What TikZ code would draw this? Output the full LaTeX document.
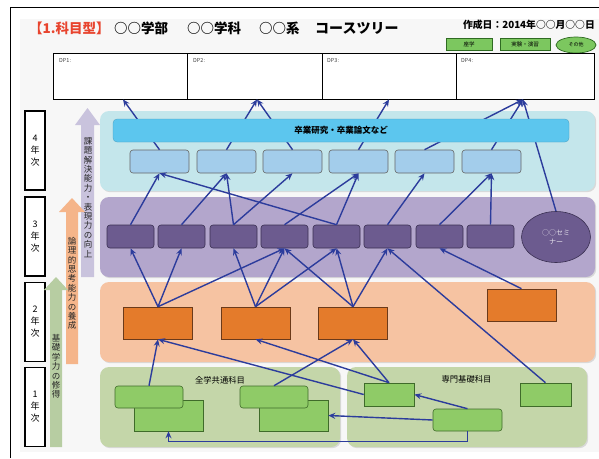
\documentclass[tikz,border=0pt]{standalone}
\usepackage{fontspec}
\newfontfamily\jp{Noto Sans CJK JP}
\usetikzlibrary{arrows.meta,shapes.geometric,shadows}
\definecolor{pagebg}{HTML}{F7F7F7}
\definecolor{titlered}{HTML}{E8442E}
\definecolor{btngreen}{HTML}{7CC75F}
\definecolor{btnborder}{HTML}{2F6B22}
\definecolor{band4}{HTML}{C4E6EB}
\definecolor{barblue}{HTML}{5CC6EE}
\definecolor{qfill}{HTML}{A3CDEB}
\definecolor{band3}{HTML}{B3A6CC}
\definecolor{pfill}{HTML}{6C5B8F}
\definecolor{pborder}{HTML}{3A3052}
\definecolor{band2}{HTML}{F6C3A2}
\definecolor{ofill}{HTML}{E47B2B}
\definecolor{oborder}{HTML}{6B3A1A}
\definecolor{band1}{HTML}{C4D6A9}
\definecolor{gfill}{HTML}{8FCB67}
\definecolor{gborder}{HTML}{3F6B2A}
\definecolor{arrowblue}{HTML}{2C3C9C}
\definecolor{lavarrow}{HTML}{C9C3DD}
\definecolor{orarrow}{HTML}{F5B58A}
\definecolor{grarrow}{HTML}{B7CDA2}
\begin{document}
\begin{tikzpicture}[x=1pt,y=-1pt,font=\jp,
  band/.style={rounded corners=9pt,inner sep=0pt,draw=none,minimum height=80pt,
    drop shadow={shadow xshift=1.2pt,shadow yshift=-1.2pt,opacity=0.25,fill=gray}},
  dpbox/.style={draw=black,line width=0.9pt,fill=white,inner sep=0pt,minimum height=46pt},
  dplabel/.style={anchor=west,inner sep=0pt,font=\jp\fontsize{5.5}{6}\selectfont,text=black!75},
  yearbox/.style={draw=black,line width=1.3pt,fill=white,inner sep=0pt,minimum width=20pt,
    minimum height=79pt,align=center,font=\jp\fontsize{9}{12}\selectfont},
  qbox/.style={draw=black!60,line width=0.6pt,fill=qfill,rounded corners=3pt,inner sep=0pt,
    minimum width=59pt,minimum height=23pt},
  pbox/.style={draw=pborder,line width=0.6pt,fill=pfill,rounded corners=3pt,inner sep=0pt,
    minimum width=47pt,minimum height=23pt},
  obox/.style={draw=oborder,line width=0.6pt,fill=ofill,inner sep=0pt,
    minimum width=69pt,minimum height=32pt},
  gbox/.style={draw=gborder,line width=0.6pt,fill=gfill,inner sep=0pt},
  grbox/.style={gbox,rounded corners=3pt},
  vtext/.style={align=center,inner sep=0pt,font=\jp\fontsize{8.5}{9.4}\selectfont,text=black!85},
  conn/.style={draw=arrowblue,line width=1.4pt,-{Stealth[length=7pt,width=6pt,inset=2.5pt]}}
]
\useasboundingbox (0,0) rectangle (599,458);
\fill[white] (0,0) rectangle (599,458);
\fill[pagebg] (20,19) rectangle (599,452);
\draw[line width=0.9pt] (10,458) -- (10,7) -- (599,7);

% title
\node[anchor=west,inner sep=0pt,text=titlered,font=\jp\bfseries\fontsize{13.5}{14}\selectfont] (t1) at (29,28) {【1.科目型】};
\node[anchor=west,inner sep=0pt,font=\jp\bfseries\fontsize{13.5}{14}\selectfont] (t2) at (114,28) {○○学部};
\node[anchor=west,inner sep=0pt,font=\jp\bfseries\fontsize{13.5}{14}\selectfont] (t3) at (187,28) {○○学科};
\node[anchor=west,inner sep=0pt,font=\jp\bfseries\fontsize{13.5}{14}\selectfont] (t4) at (259,28) {○○系};
\node[anchor=west,inner sep=0pt,font=\jp\bfseries\fontsize{14}{14}\selectfont] (t5) at (315,28) {コースツリー};
\node[anchor=east,inner sep=0pt,font=\jp\bfseries\fontsize{9.8}{10}\selectfont] (date) at (595,25) {作成日：2014年○○月○○日};
\node[draw=btnborder,line width=0.7pt,fill=btngreen,inner sep=0pt,minimum width=46pt,minimum height=12pt,font=\jp\fontsize{5.5}{6}\selectfont] (b1) at (469,44.5) {座学};
\node[draw=btnborder,line width=0.7pt,fill=btngreen,inner sep=0pt,minimum width=50pt,minimum height=12pt,font=\jp\fontsize{5.5}{6}\selectfont] (b2btn) at (525,44.5) {実験・演習};
\node[ellipse,draw=btnborder,line width=0.7pt,fill=btngreen,inner sep=0pt,minimum width=40pt,minimum height=16pt,font=\jp\fontsize{5}{6}\selectfont] (b3) at (576,45) {その他};

% DP boxes
\node[dpbox,minimum width=134pt] (dp1) at (120,76) {};
\node[dpbox,minimum width=135pt] (dp2) at (254.5,76) {};
\node[dpbox,minimum width=134pt] (dp3) at (389,76) {};
\node[dpbox,minimum width=138pt] (dp4) at (525,76) {};
\node[dplabel] (dp1l) at (59,61) {DP1:};
\node[dplabel] (dp2l) at (193,61) {DP2:};
\node[dplabel] (dp3l) at (327,61) {DP3:};
\node[dplabel] (dp4l) at (461,61) {DP4:};

% year boxes
\node[yearbox] (y4) at (35,150.5) {4\\年\\次};
\node[yearbox] (y3) at (35,236.5) {3\\年\\次};
\node[yearbox] (y2) at (35,322) {2\\年\\次};
\node[yearbox] (y1) at (35,407) {1\\年\\次};

% block arrows
\fill[lavarrow] (81,277) -- (81,125) -- (75,125) -- (87.5,108) -- (100,125) -- (94,125) -- (94,277) -- cycle;
\fill[orarrow] (66,364) -- (66,212) -- (59,212) -- (72,198) -- (85,212) -- (78,212) -- (78,364) -- cycle;
\fill[grarrow] (50,447) -- (50,290) -- (44,290) -- (56,277) -- (68,290) -- (62,290) -- (62,447) -- cycle;
\node[vtext] (vt1) at (88,197.5) {課\\題\\解\\決\\能\\力\\・\\表\\現\\力\\の\\向\\上};
\node[vtext] (vt2) at (72,283.5) {論\\理\\的\\思\\考\\能\\力\\の\\養\\成};
\node[vtext] (vt3) at (56,366.5) {基\\礎\\学\\力\\の\\修\\得};

% bands
\node[band,fill=band4,minimum width=495pt] (band4) at (347.5,151) {};
\node[band,fill=band3,minimum width=495pt] (band3) at (347.5,237) {};
\node[band,fill=band2,minimum width=495pt] (band2) at (347.5,322) {};
\node[band,fill=band1,minimum width=240pt] (band1l) at (220,407) {};
\node[band,fill=band1,minimum width=240pt] (band1r) at (467,407) {};
\node[inner sep=0pt,font=\jp\fontsize{8.3}{9}\selectfont] (lab1) at (220,380) {全学共通科目};
\node[inner sep=0pt,font=\jp\fontsize{8.3}{9}\selectfont] (lab2) at (466.5,379) {専門基礎科目};

% 4th year boxes
\foreach \i/\x in {1/159.5,2/226.5,3/292.5,4/358.5,5/424.5,6/491.5}
  \node[qbox] (q\i) at (\x,161.5) {};
% 3rd year boxes
\foreach \i/\x in {1/130.5,2/181.5,3/233.5,4/284.5,5/336.5,6/387.5,7/439.5,8/490.5}
  \node[pbox] (p\i) at (\x,236.5) {};
\node[ellipse,draw=pborder,line width=0.6pt,fill=pfill,inner sep=0pt,minimum width=69pt,
  minimum height=51pt,align=center,text=white!80!pfill,font=\jp\fontsize{7}{9}\selectfont] (sem) at (556,237) {○○セミ\\ナー};
% 2nd year boxes
\node[obox] (o1) at (158,323) {};
\node[obox] (o2) at (255.5,323) {};
\node[obox] (o3) at (353,323) {};
\node[obox] (o4) at (521.5,305) {};
% 1st year boxes
\node[gbox,minimum width=69pt,minimum height=31pt] (a2) at (168.5,415.5) {};
\node[grbox,minimum width=68pt,minimum height=22pt] (a1) at (149,397) {};
\node[gbox,minimum width=69pt,minimum height=31pt] (b2) at (293.5,415.5) {};
\node[grbox,minimum width=68pt,minimum height=22pt] (bb1) at (274,397) {};
\node[gbox,minimum width=50pt,minimum height=23pt] (c) at (389,394.5) {};
\node[grbox,minimum width=69pt,minimum height=22pt] (d) at (467.5,420) {};
\node[gbox,minimum width=51pt,minimum height=23pt] (e) at (545.5,394.5) {};

% connectors to DP
\draw[conn] (q1.north) -- ([xshift=3pt]dp1.south);
\draw[conn] (q2.north) -- ([xshift=2.5pt]dp2.south);
\draw[conn] (q3.north) -- ([xshift=2.5pt]dp2.south);
\draw[conn] (q4.north) -- (dp3.south);
\draw[conn] (q5.north) -- ([xshift=-2pt]dp4.south);
\draw[conn] (q6.north) -- ([xshift=-2pt]dp4.south);
\draw[conn] (sem.north) -- ([xshift=-2pt]dp4.south);

% 3rd -> 4th
\draw[conn] (p1.north) -- (q1.south);
\draw[conn] (p2.north) -- (q2.south);
\draw[conn] (p3.north) -- (q2.south);
\draw[conn] (p3.north) -- (q3.south);
\draw[conn] (p4.north) -- (q4.south);
\draw[conn] (p5.north) -- (q4.south);
\draw[conn] (p5.north) -- (q1.south);
\draw[conn] (p6.north) -- (q5.south);
\draw[conn] (p7.north) -- (q6.south);
\draw[conn] (p8.north) -- (q6.south);

% 2nd -> 3rd
\draw[conn] (o1.north) -- (p1.south);
\draw[conn] (o1.north) -- (p2.south);
\draw[conn] (o1.north) -- (p4.south);
\draw[conn] (o2.north) -- (p3.south);
\draw[conn] (o2.north) -- (p4.south);
\draw[conn] (o2.north) -- (p5.south);
\draw[conn] (o3.north) -- (p4.south);
\draw[conn] (o3.north) -- (p5.south);
\draw[conn] (o3.north) -- (p6.south);
\draw[conn] (o4.north) -- (p7.south);
\draw[conn] (e.north) -- (p6.south);

% 1st -> 2nd
\draw[conn] (a1.north) -- (o1.south);
\draw[conn] (c.west) -- (o1.south);
\draw[conn] (c.north) -- (o2.south);
\draw[conn] (c.north) -- (o3.south);
\draw[conn] (bb1.north) -- (o3.south);

% within 1st year
\draw[conn] (d.north) -- (c.east);
\draw[conn] (d.west) -- (b2.east);
\draw[conn] (d.south) -- ++(0,10) -| (a2.south);

% bar on top
\node[rounded corners=4pt,fill=barblue,draw=barblue!80!black,line width=0.3pt,inner sep=0pt,minimum width=456pt,minimum height=23pt,
  font=\jp\bfseries\fontsize{8.5}{9}\selectfont] (bar) at (341,130.5) {卒業研究・卒業論文など};
\end{tikzpicture}
\end{document}
